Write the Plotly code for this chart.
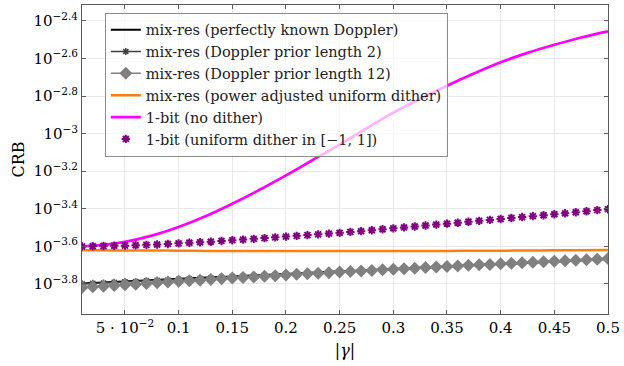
import numpy as np
import plotly.graph_objects as go

# x grid (|gamma|)
gamma = [round(0.01 * i, 2) for i in range(1, 51)]

# log10(CRB) values
known_doppler = [-3.797, -3.794, -3.792, -3.789, -3.786, -3.784, -3.781, -3.778, -3.776, -3.773,
                 -3.770, -3.768, -3.765, -3.763, -3.760, -3.757, -3.755, -3.752, -3.749, -3.747,
                 -3.744, -3.741, -3.739, -3.736, -3.733, -3.731, -3.728, -3.725, -3.723, -3.720,
                 -3.717, -3.715, -3.712, -3.709, -3.707, -3.704, -3.701, -3.699, -3.696, -3.693,
                 -3.691, -3.688, -3.686, -3.683, -3.680, -3.678, -3.675, -3.672, -3.670, -3.667]
prior2 = [-3.800, -3.797, -3.795, -3.792, -3.789, -3.787, -3.784, -3.781, -3.779, -3.776,
          -3.773, -3.771, -3.768, -3.765, -3.762, -3.759, -3.757, -3.754, -3.751, -3.749,
          -3.746, -3.743, -3.740, -3.738, -3.735, -3.732, -3.730, -3.727, -3.724, -3.722,
          -3.719, -3.716, -3.714, -3.711, -3.708, -3.706, -3.703, -3.700, -3.698, -3.695,
          -3.692, -3.690, -3.687, -3.684, -3.682, -3.679, -3.676, -3.674, -3.671, -3.668]
prior12 = [-3.819, -3.815, -3.812, -3.808, -3.804, -3.801, -3.797, -3.794, -3.790, -3.786,
           -3.783, -3.780, -3.776, -3.773, -3.769, -3.766, -3.763, -3.759, -3.756, -3.753,
           -3.749, -3.746, -3.743, -3.740, -3.737, -3.734, -3.731, -3.728, -3.725, -3.722,
           -3.719, -3.716, -3.713, -3.710, -3.707, -3.704, -3.701, -3.698, -3.696, -3.693,
           -3.690, -3.687, -3.685, -3.682, -3.679, -3.676, -3.674, -3.671, -3.668, -3.665]
dither_1bit = [-3.600, -3.599, -3.598, -3.597, -3.596, -3.594, -3.592, -3.590, -3.587, -3.584,
               -3.581, -3.578, -3.575, -3.571, -3.567, -3.564, -3.560, -3.556, -3.552, -3.548,
               -3.544, -3.540, -3.536, -3.532, -3.528, -3.523, -3.519, -3.514, -3.509, -3.504,
               -3.499, -3.494, -3.489, -3.484, -3.479, -3.474, -3.469, -3.464, -3.459, -3.454,
               -3.449, -3.444, -3.439, -3.434, -3.429, -3.424, -3.418, -3.413, -3.407, -3.402]

gamma_coarse = [0.01, 0.025, 0.05, 0.075, 0.10, 0.125, 0.15, 0.175, 0.20, 0.225, 0.25,
                0.275, 0.30, 0.325, 0.35, 0.375, 0.40, 0.425, 0.45, 0.475, 0.50]
no_dither_1bit = [-3.600, -3.595, -3.576, -3.543, -3.497, -3.440, -3.373, -3.300, -3.222, -3.140,
                  -3.058, -2.972, -2.888, -2.815, -2.745, -2.680, -2.620, -2.570, -2.527,
                  -2.488, -2.455]
power_adj = [-3.620, -3.621, -3.622, -3.622, -3.623, -3.624, -3.624, -3.625, -3.625, -3.625,
             -3.625, -3.625, -3.624, -3.624, -3.624, -3.623, -3.623, -3.622, -3.621, -3.620, -3.619]

ytick_exp = [-2.4, -2.6, -2.8, -3.0, -3.2, -3.4, -3.6, -3.8]
ytick_text = ["10<sup>−2.4</sup>", "10<sup>−2.6</sup>", "10<sup>−2.8</sup>", "10<sup>−3</sup>",
              "10<sup>−3.2</sup>", "10<sup>−3.4</sup>", "10<sup>−3.6</sup>", "10<sup>−3.8</sup>"]
xtick_vals = [0.05, 0.1, 0.15, 0.2, 0.25, 0.3, 0.35, 0.4, 0.45, 0.5]
xtick_text = ["5 · 10<sup>−2</sup>", "0.1", "0.15", "0.2", "0.25", "0.3", "0.35", "0.4", "0.45", "0.5"]


def p(v):
    return [10 ** a for a in v]


FONT = "DejaVu Serif"
fig = go.Figure()
fig.add_trace(go.Scatter(x=gamma, y=p(known_doppler), mode="lines",
                         line=dict(color="black", width=2),
                         name="mix-res (perfectly known Doppler)"))
fig.add_trace(go.Scatter(x=gamma, y=p(prior2), mode="lines+markers",
                         line=dict(color="#404040", width=1.5),
                         marker=dict(symbol="asterisk-open", size=6, color="#404040",
                                     line=dict(color="#404040", width=1.5)),
                         name="mix-res (Doppler prior length 2)"))
fig.add_trace(go.Scatter(x=gamma, y=p(prior12), mode="lines+markers",
                         line=dict(color="#808080", width=1.5),
                         marker=dict(symbol="diamond", size=10, color="#808080"),
                         name="mix-res (Doppler prior length 12)"))
fig.add_trace(go.Scatter(x=gamma_coarse, y=p(power_adj), mode="lines",
                         line=dict(color="#ff7f0e", width=2.5, shape="spline"),
                         name="mix-res (power adjusted uniform dither)"))
fig.add_trace(go.Scatter(x=gamma_coarse, y=p(no_dither_1bit), mode="lines",
                         line=dict(color="#ff00ff", width=2.7, shape="spline"),
                         name="1-bit (no dither)"))
fig.add_trace(go.Scatter(x=gamma, y=p(dither_1bit), mode="markers",
                         marker=dict(symbol="asterisk-open", size=7, color="#800080",
                                     line=dict(color="#800080", width=2)),
                         name="1-bit (uniform dither in [−1, 1])"))

axis_common = dict(showline=True, linecolor="#5a5a5a", linewidth=1, mirror="allticks",
                   ticks="inside", ticklen=4, tickcolor="#5a5a5a",
                   showgrid=True, gridcolor="#e8e8e8", gridwidth=1, zeroline=False,
                   tickfont=dict(family=FONT, size=15, color="black"))

fig.update_xaxes(range=[0.01, 0.5], tickvals=xtick_vals, ticktext=xtick_text,
                 title=dict(text="<i>|γ|</i>", font=dict(family=FONT, size=16, color="black"),
                            standoff=8),
                 **axis_common)
fig.update_yaxes(type="log", range=[-3.96, -2.315], tickvals=[10 ** e for e in ytick_exp],
                 ticktext=ytick_text,
                 title=dict(text="CRB", font=dict(family=FONT, size=16, color="black"),
                            standoff=4),
                 **axis_common)

fig.update_layout(
    width=624, height=366,
    margin=dict(l=82, r=12, t=4, b=52),
    plot_bgcolor="white", paper_bgcolor="white",
    font=dict(family=FONT, size=15, color="black"),
    legend=dict(x=0.0434, y=0.975, xanchor="left", yanchor="top",
                bgcolor="rgba(255,255,255,0.7)", bordercolor="#8c8c8c", borderwidth=1,
                font=dict(family=FONT, size=14.5, color="#222"), itemwidth=30,
                tracegroupgap=0),
    showlegend=True,
)

fig.write_html("out.html")
